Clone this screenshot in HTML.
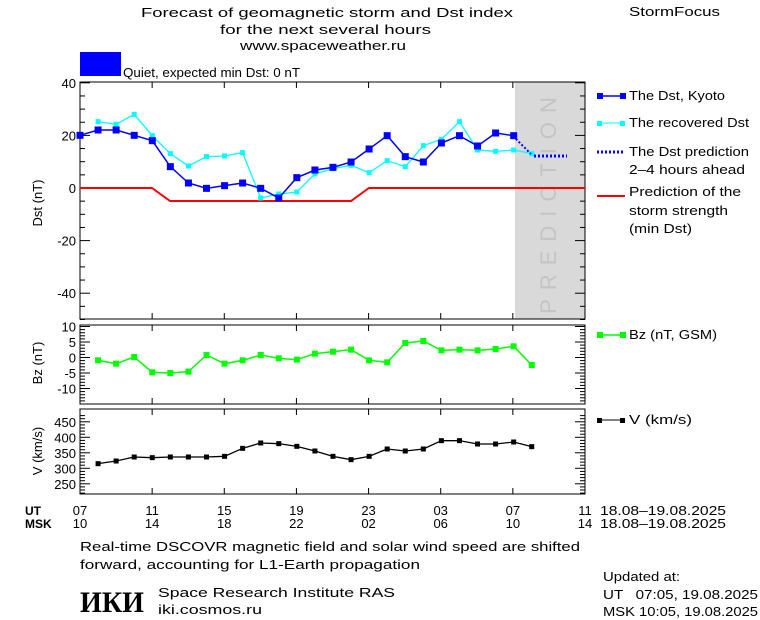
<!DOCTYPE html>
<html><head><meta charset="utf-8"><style>
html,body{margin:0;padding:0;background:#fff;}
svg{display:block;font-family:"Liberation Sans",sans-serif;}
text{font-size:13px;fill:#000;}
</style></head><body>
<svg id="s" width="760" height="620" xmlns="http://www.w3.org/2000/svg">
<text x="141" y="17" textLength="372" lengthAdjust="spacingAndGlyphs">Forecast of geomagnetic storm and Dst index</text>
<text x="220" y="34" textLength="211" lengthAdjust="spacingAndGlyphs">for the next several hours</text>
<text x="240" y="50" textLength="166" lengthAdjust="spacingAndGlyphs">www.spaceweather.ru</text>
<text x="629" y="16" textLength="91" lengthAdjust="spacingAndGlyphs">StormFocus</text>
<rect x="80" y="52" width="41" height="24" fill="#0000ff"/>
<text x="123" y="77" textLength="177" lengthAdjust="spacingAndGlyphs">Quiet, expected min Dst: 0 nT</text>
<rect x="515" y="82" width="70" height="237" fill="#d9d9d9"/>
<text transform="translate(556,201) rotate(-90)" text-anchor="middle" style="font-size:22px;fill:#c4c4c4;letter-spacing:9px">PREDICTION</text>
<g id="g"></g>
<line x1="597" y1="96" x2="625" y2="96" stroke="#0000ff" stroke-width="1.5"/><rect x="597" y="93" width="6" height="6" fill="#0000ff"/><rect x="620" y="93" width="6" height="6" fill="#0000ff"/>
<text x="629" y="100" textLength="96" lengthAdjust="spacingAndGlyphs">The Dst, Kyoto</text>
<line x1="597" y1="123" x2="625" y2="123" stroke="#00ffff"/><rect x="597" y="121" width="5" height="5" fill="#00ffff"/><rect x="620" y="121" width="5" height="5" fill="#00ffff"/>
<text x="629" y="127" textLength="120" lengthAdjust="spacingAndGlyphs">The recovered Dst</text>
<line x1="597" y1="152" x2="625" y2="152" stroke="#0000ff" stroke-width="3" stroke-dasharray="2,2"/>
<text x="629" y="156" textLength="120" lengthAdjust="spacingAndGlyphs">The Dst prediction</text><text x="629" y="174" textLength="116" lengthAdjust="spacingAndGlyphs">2–4 hours ahead</text>
<line x1="597" y1="196" x2="625" y2="196" stroke="#ff0000" stroke-width="2"/>
<text x="629" y="196" textLength="112" lengthAdjust="spacingAndGlyphs">Prediction of the</text><text x="629" y="215" textLength="99" lengthAdjust="spacingAndGlyphs">storm strength</text><text x="629" y="233" textLength="63" lengthAdjust="spacingAndGlyphs">(min Dst)</text>
<line x1="597" y1="335" x2="625" y2="335" stroke="#00ff00" stroke-width="1.5"/><rect x="597" y="332" width="6" height="6" fill="#00ff00"/><rect x="620" y="332" width="6" height="6" fill="#00ff00"/>
<text x="629" y="339" textLength="88" lengthAdjust="spacingAndGlyphs">Bz (nT, GSM)</text>
<line x1="597" y1="420" x2="625" y2="420" stroke="#000"/><rect x="597" y="418" width="5" height="5" fill="#000"/><rect x="620" y="418" width="5" height="5" fill="#000"/>
<text x="629" y="424" textLength="63" lengthAdjust="spacingAndGlyphs">V (km/s)</text>
<text transform="translate(42,203) rotate(-90)" text-anchor="middle">Dst (nT)</text>
<text transform="translate(42,363) rotate(-90)" text-anchor="middle">Bz (nT)</text>
<text transform="translate(42,451) rotate(-90)" text-anchor="middle">V (km/s)</text>
<text x="25" y="515" style="font-weight:bold;font-size:12px">UT</text>
<text x="25" y="528" style="font-weight:bold;font-size:12px">MSK</text>
<text x="600" y="515" textLength="126" lengthAdjust="spacingAndGlyphs">18.08–19.08.2025</text>
<text x="600" y="528" textLength="126" lengthAdjust="spacingAndGlyphs">18.08–19.08.2025</text>
<text x="80" y="551" textLength="500" lengthAdjust="spacingAndGlyphs">Real-time DSCOVR magnetic field and solar wind speed are shifted</text>
<text x="80" y="569" textLength="340" lengthAdjust="spacingAndGlyphs">forward, accounting for L1-Earth propagation</text>
<text x="80" y="612" textLength="64" lengthAdjust="spacingAndGlyphs" style="font-family:'Liberation Serif',serif;font-weight:bold;font-size:30px">ИКИ</text>
<text x="158" y="597" textLength="237" lengthAdjust="spacingAndGlyphs">Space Research Institute RAS</text>
<text x="158" y="614" textLength="104" lengthAdjust="spacingAndGlyphs">iki.cosmos.ru</text>
<text x="603" y="581" textLength="77" lengthAdjust="spacingAndGlyphs">Updated at:</text>
<text x="603" y="599" xml:space="preserve" textLength="155" lengthAdjust="spacingAndGlyphs">UT   07:05, 19.08.2025</text>
<text x="603" y="616" textLength="155" lengthAdjust="spacingAndGlyphs">MSK 10:05, 19.08.2025</text>
</svg>
<script>
var g=document.getElementById('g'),h='';
function X(i){return 80+18.07*i;}
function L(x1,y1,x2,y2,c,w,d){h+='<line x1="'+x1+'" y1="'+y1+'" x2="'+x2+'" y2="'+y2+'" stroke="'+c+'" stroke-width="'+(w||1)+'"'+(d?' stroke-dasharray="'+d+'"':'')+'/>';}
function T(x,y,s,a){h+='<text x="'+x+'" y="'+y+'" text-anchor="'+(a||'end')+'">'+s+'</text>';}
function P(pts,c,w){h+='<polyline fill="none" stroke="'+c+'" stroke-width="'+w+'" points="'+pts.map(p=>p.join(',')).join(' ')+'"/>';}
function M(pts,c,s){pts.forEach(p=>{h+='<rect x="'+(p[0]-s/2)+'" y="'+(p[1]-s/2)+'" width="'+s+'" height="'+s+'" fill="'+c+'"/>';});}
function panel(top,bot,f,minor,major,lo,hi,labs){
 h+='<rect x="80" y="'+top+'" width="505" height="'+(bot-top)+'" fill="none" stroke="#000"/>';
 for(var v=lo;v<=hi;v+=minor){var y=f(v);if(y<top-0.5||y>bot+0.5)continue;var isM=Math.abs(v%major)<1e-6;var l=isM?10:5;L(80,y,80+l,y,'#000');L(585,y,585-l,y,'#000');}
 labs.forEach(v=>T(76,f(v)+5,v));
 for(var i=0;i<=7;i++){var x=80+72.14*i;L(x,top,x,top+6,'#000');L(x,bot,x,bot-6,'#000');}
}
var fd=v=>188-2.63*v;
panel(82,319,fd,5,20,-50,40,[40,20,0,-20,-40]);
var fb=v=>357.5-3.1*v;
panel(325,404,fb,1,5,-15,10,[10,5,0,-5,-10]);
var fv=v=>437.3-(v-400)*0.31;
panel(409,494,fv,10,50,200,470,[450,400,350,300,250]);
P([[80,188],[152,188],[170,201],[351,201],[369,188],[585,188]],'#ff0000',2);
var cy=[125,133,103,167,221,258,230,228,218,354,342,336,282,266,256,278,242,260,197,178,125,210,214,210,221];
var cp=cy.map((z,i)=>[X(i+1),z/3+80]);P(cp,'#00ffff',1.3);M(cp,'#00ffff',5);
var by=[166,150,150,166,182,260,309,325,317,309,325,354,293,270,262,246,207,167,230,246,189,167,198,159,167];
var bp=by.map((z,i)=>[X(i),z/3+80]);P(bp,'#0000ff',1.5);M(bp,'#0000ff',7);
L(513,136,531,154,'#0000ff',2,'2,2');L(534,156,567,156,'#0000ff',3,'2,2');
var bz=[121,131,111,157,159,155,105,131,121,105,115,119,101,95,89,121,127,69,63,91,89,91,87,79,135];
var zp=bz.map((z,i)=>[X(i+1),z/3+320]);P(zp,'#00ff00',1.5);M(zp,'#00ff00',6);
var vv=[431,423,411,413,411,411,411,409,385,369,371,379,393,409,419,409,387,393,387,362,362,372,372,366,380];
var vp=vv.map((z,i)=>[X(i+1),z/3+320]);P(vp,'#000',1.3);M(vp,'#000',5);
var ut=['07','11','15','19','23','03','07','11'],ms=['10','14','18','22','02','06','10','14'];
for(var i=0;i<8;i++){var x=80+72.14*i;T(x,515,ut[i],'middle');T(x,528,ms[i],'middle');}
g.innerHTML=h;
</script>
</body></html>
